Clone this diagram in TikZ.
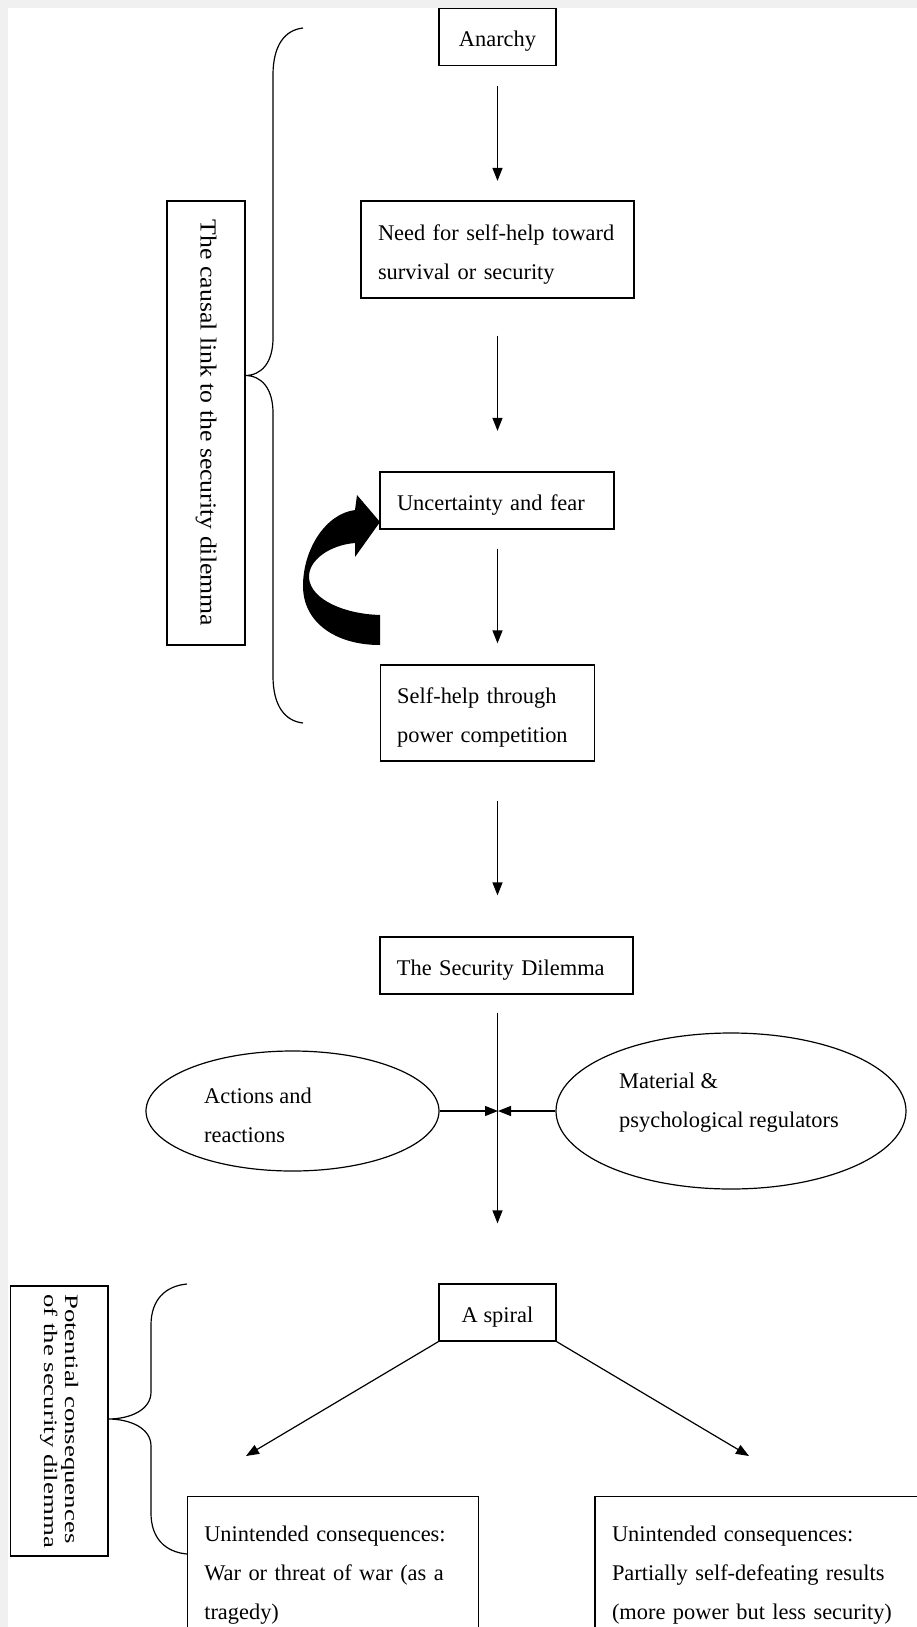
\documentclass[tikz,border=0pt]{standalone}
\usepackage{fontspec}
\usepackage{graphicx}
\setmainfont{Liberation Serif}
\usetikzlibrary{arrows.meta,shapes.geometric}
\newcommand{\mystrut}{\rule{0pt}{25pt}}
\begin{document}
\begin{tikzpicture}[x=1pt,y=-1pt,
  every node/.style={font=\fontsize{22.4}{39}\selectfont},
  cbox/.style={draw, line width=1.2pt, inner sep=0pt, align=center},
  lbox/.style={draw, line width=1.2pt, inner xsep=17pt, inner ysep=0pt, align=left},
  ell/.style={ellipse, draw, line width=1.2pt, inner sep=0pt},
  arr/.style={line width=1.2pt, -{Triangle[length=13pt,width=10pt]}},
  brace/.style={line width=1.2pt},
  rbox/.style={draw, line width=1.2pt, rotate=-90, inner sep=0pt}
]
\useasboundingbox (0,0) rectangle (917,1627);
\clip (0,0) rectangle (917,1627);
\fill[gray!12] (0,0) rectangle (917,1627);
\fill[white] (8,8) rectangle (917,1627);

% main chain
\node[cbox, minimum width=117pt, minimum height=57pt] (anarchy) at (497.5,36.7) {\mystrut Anarchy};
\node[lbox, text width=239pt, minimum height=97pt] (need) at (497.5,249.5) {\mystrut\mbox{Need for self-help toward}\\survival or security};
\node[lbox, text width=200pt, minimum height=57pt] (unc) at (497,500.5) {\mystrut\mbox{Uncertainty and fear}};
\node[lbox, text width=180pt, minimum height=96pt] (selfhelp) at (487.2,713) {\mystrut\mbox{Self-help through}\\\mbox{power competition}};
\node[lbox, text width=219pt, minimum height=57pt] (sd) at (506.4,965.5) {\mystrut\mbox{The Security Dilemma}};
\node[cbox, minimum width=117pt, minimum height=57pt] (spiral) at (497.5,1312.5) {\mystrut A spiral};

\draw[arr, shorten <=20pt, shorten >=19.5pt] (anarchy.south) -- (need.north);
\draw[arr, shorten <=37pt, shorten >=40.5pt] (need.south) -- (need.south |- unc.north);
\draw[arr, shorten <=19pt, shorten >=21pt] (need.south |- unc.south) -- (need.south |- selfhelp.north);
\draw[arr, shorten <=39pt, shorten >=41pt] (need.south |- selfhelp.south) -- (need.south |- sd.north);
\draw[arr, shorten <=18pt, shorten >=60pt] (need.south |- sd.south) -- (spiral.north);

% ellipses
\node[ell, minimum width=293pt, minimum height=120pt] (act) at (292.5,1111) {};
\node[anchor=west, align=left, inner sep=0pt] (actT) at (204,1115) {Actions and\\reactions};
\node[ell, minimum width=350pt, minimum height=156pt] (mat) at (731,1111) {};
\node[anchor=west, align=left, inner sep=0pt] (matT) at (619,1102.5) {Material \&\\\mbox{psychological regulators}};
\coordinate (mid) at (498,1111);
\draw[arr] (act.east) -- (mid);
\draw[arr] (mat.west) -- (mid);

% spiral branches
\coordinate (tl) at (246,1456);
\coordinate (tr) at (749,1456);
\draw[arr] (spiral.south west) -- (tl);
\draw[arr] (spiral.south east) -- (tr);

% bottom boxes
\node[lbox, anchor=north west, inner ysep=29.5pt, text width=257pt] (war) at (186.7,1496)
  {\mbox{Unintended consequences:}\\\mbox{War or threat of war (as a}\\tragedy)};
\node[lbox, anchor=north west, inner ysep=29.5pt, text width=340pt] (part) at (594.4,1496)
  {\mbox{Unintended consequences:}\\\mbox{Partially self-defeating results}\\\mbox{(more power but less security)}};

% side labels
\node[rbox, minimum width=444pt, minimum height=78pt, font=\fontsize{23}{39}\selectfont] (causal) at (206,423)
  {\scalebox{1.12}[1]{The causal link to the security dilemma}};
\node[rbox, minimum width=270pt, minimum height=97.6pt, align=left, font=\fontsize{19}{21}\selectfont] (pot) at (59.2,1421)
  {\scalebox{1.41}[1]{Potential consequences}\\\scalebox{1.41}[1]{of the security dilemma}};

% braces
\coordinate (tip1) at (245,375.5);
\coordinate (tip2) at (108,1419);
\draw[brace] (303,28) .. controls (285,30) and (273,45) .. (273,75) -- (273,338)
  .. controls (273,362) and (262,375.5) .. (tip1)
  .. controls (262,375.5) and (273,389) .. (273,413) -- (273,676)
  .. controls (273,706) and (285,721) .. (303,723);
\draw[brace] (187,1284) .. controls (165,1286) and (151,1300) .. (151,1325) -- (151,1392)
  .. controls (151,1410) and (130,1419) .. (tip2)
  .. controls (130,1419) and (151,1428) .. (151,1446) -- (151,1513)
  .. controls (151,1538) and (165,1552) .. (187,1554);

% curved feedback arrow
\fill[black] (380,645) -- (380,615)
  .. controls (345,614) and (311,600) .. (309,578)
  .. controls (308,560) and (330,545) .. (355,543)
  -- (355,557) -- (380,522) -- (357,495) -- (355,510)
  .. controls (325,514) and (303,550) .. (303,586)
  .. controls (303,622) and (335,645) .. (380,645) -- cycle;
\end{tikzpicture}
\end{document}
